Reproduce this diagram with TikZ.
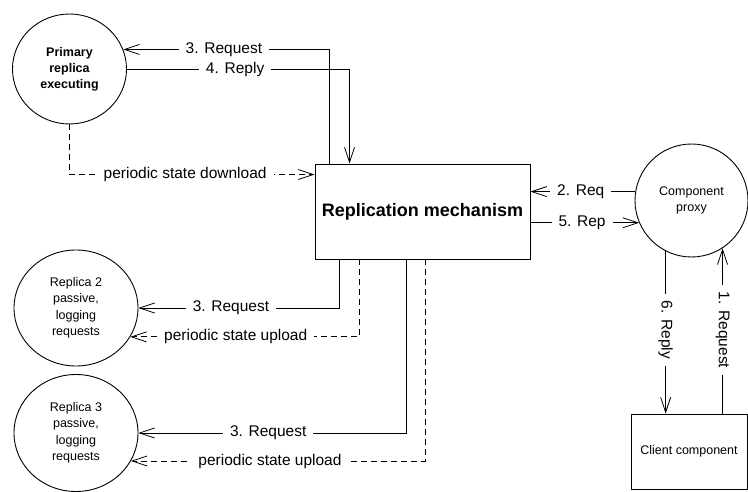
\documentclass[tikz,border=0pt]{standalone}
\usepackage{fontspec}
\setmainfont{Liberation Sans}
\usetikzlibrary{arrows.meta,shapes.geometric}
\begin{document}
\begin{tikzpicture}[x=1pt,y=-1pt,
  conn/.style={line width=0.8pt},
  dconn/.style={conn,dash pattern=on 6pt off 4pt},
  tip/.style={-{Straight Barb[length=15pt,width=10pt,line width=0.8pt]}},
  lbl/.style={fill=white,inner xsep=7pt,inner ysep=1pt,font=\fontsize{15.5}{17}\selectfont},
  vlbl/.style={lbl,rotate=-90},
  bubble/.style={ellipse,draw,line width=0.9pt,align=center,inner sep=0pt,font=\fontsize{12.5}{16.5}\selectfont},
  box/.style={rectangle,draw,line width=0.9pt,align=center,inner sep=0pt}
]
\useasboundingbox (0,0) rectangle (748,492);

% nodes
\node[bubble,minimum width=114pt,minimum height=110pt,font=\bfseries\fontsize{12.5}{16}\selectfont] (primary) at (69.5,69) {Primary\\replica\\executing};
\node[box,minimum width=215pt,minimum height=95pt,font=\bfseries\fontsize{18}{20}\selectfont] (mech) at (422.5,211.5) {Replication mechanism};
\node[bubble,minimum width=113pt,minimum height=113pt] (proxy) at (691.5,200.5) {Component\\proxy};
\node[box,minimum width=116pt,minimum height=75pt,font=\fontsize{12.5}{15}\selectfont] (client) at (689,451.5) {Client component};
\node[bubble,minimum width=124pt,minimum height=116pt] (rep2) at (76,308) {Replica 2\\passive,\\logging\\requests};
\node[bubble,minimum width=124pt,minimum height=117pt] (rep3) at (76,433) {Replica 3\\passive,\\logging\\requests};

% primary replica connectors
\draw[conn,tip] ([xshift=15pt]mech.north west) |- node[lbl,pos=0.756]{3. Request} (primary.20);
\draw[conn,tip] (primary.east) -| node[lbl,pos=0.243]{4. Reply} ([xshift=35pt]mech.north west);
\draw[dconn,tip] (primary.south) |- node[lbl,pos=0.736]{periodic state download} ([yshift=-11pt]mech.north west);

% proxy connectors
\draw[conn,tip] (proxy.171) -- node[lbl,pos=0.52]{2. Req} (proxy.171 -| mech.east);
\draw[conn,tip] (proxy.203 -| mech.east) -- node[lbl,pos=0.475]{5. Rep} (proxy.203);
\draw[conn,tip] (proxy.243) -- node[vlbl,pos=0.485]{6. Reply} (proxy.243 |- client.north);
\draw[conn,tip] (proxy.303 |- client.north) -- node[vlbl,pos=0.506]{1. Request} (proxy.303);

% replica 2
\draw[conn,tip] ([xshift=25pt]mech.south west) |- node[lbl,pos=0.77]{3. Request} (rep2.east);
\draw[dconn,tip] ([xshift=45pt]mech.south west) |- node[lbl,pos=0.77]{periodic state upload} (rep2.-28);

% replica 3
\draw[conn,tip] ([xshift=92pt]mech.south west) |- node[lbl,pos=0.758]{3. Request} (rep3.east);
\draw[dconn,tip] ([xshift=111pt]mech.south west) |- node[lbl,pos=0.764]{periodic state upload} (rep3.-27);

\end{tikzpicture}
\end{document}
